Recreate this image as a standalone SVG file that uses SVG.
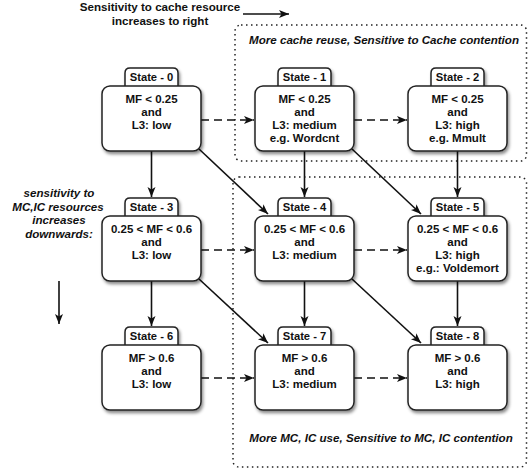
<svg xmlns="http://www.w3.org/2000/svg" width="529" height="469" viewBox="0 0 529 469">
<style>
  .box { fill: #fff; stroke: #222; stroke-width: 1.5; }
  .t { font-family: "Liberation Sans", Arial, sans-serif; font-weight: bold; font-size: 11.5px; fill: #111; text-anchor: middle; }
  .tab { font-family: "Liberation Sans", Arial, sans-serif; font-weight: bold; font-size: 11.2px; fill: #111; text-anchor: middle; }
  .lg { font-family: "Liberation Sans", Arial, sans-serif; font-weight: bold; font-size: 11.6px; fill: #111; text-anchor: middle; }
  .it { font-family: "Liberation Sans", Arial, sans-serif; font-weight: bold; font-style: italic; font-size: 11.6px; fill: #111; text-anchor: middle; }
  .solid { stroke: #111; stroke-width: 1.6; fill: none; marker-end: url(#ah); }
  .dash { stroke: #111; stroke-width: 1.6; fill: none; stroke-dasharray: 8 5; marker-end: url(#ah); }
  .region { fill: none; stroke: #222; stroke-width: 1.5; stroke-dasharray: 1.5 3.5; }
</style>
<defs>
  <marker id="ah" markerUnits="userSpaceOnUse" markerWidth="11" markerHeight="9" refX="10" refY="4" orient="auto" overflow="visible">
    <path d="M0,0 L10,4 L0,8 L2.5,4 z" fill="#111"/>
  </marker>
  <filter id="sh" x="-20%" y="-20%" width="140%" height="150%">
    <feDropShadow dx="1.5" dy="2.5" stdDeviation="1.6" flood-color="#000" flood-opacity="0.45"/>
  </filter>
</defs>
<rect width="529" height="469" fill="#fff"/>

<!-- regions -->
<g id="region-cache">
  <rect class="region" x="235" y="25" width="291.5" height="136" rx="6"/>
  <text class="it" x="384" y="44">More cache reuse, Sensitive to Cache contention</text>
</g>
<g id="region-mc">
  <rect class="region" x="233" y="177" width="293.5" height="290" rx="6"/>
  <text class="it" x="381" y="442">More MC, IC use, Sensitive to MC, IC contention</text>
</g>

<!-- legends -->
<g id="legend-right">
  <text class="lg" x="160" y="11">Sensitivity to cache resource</text>
  <text class="lg" x="160" y="25">increases to right</text>
  <line class="solid" x1="243" y1="14" x2="289" y2="14"/>
</g>
<g id="legend-down">
  <text class="it" x="59" y="197">sensitivity to</text>
  <text class="it" x="58" y="211">MC,IC resources</text>
  <text class="it" x="59" y="224">increases</text>
  <text class="it" x="59" y="238">downwards:</text>
  <line class="solid" x1="59" y1="281" x2="59" y2="324"/>
</g>

<!-- connectors -->
<g id="connectors">
  <!-- vertical -->
  <line class="solid" x1="151.5" y1="151" x2="151.5" y2="197"/>
  <line class="solid" x1="304.5" y1="151" x2="304.5" y2="197"/>
  <line class="solid" x1="457.5" y1="151" x2="457.5" y2="197"/>
  <line class="solid" x1="151.5" y1="281" x2="151.5" y2="326"/>
  <line class="solid" x1="304.5" y1="281" x2="304.5" y2="326"/>
  <line class="solid" x1="457.5" y1="281" x2="457.5" y2="326"/>
  <!-- diagonal -->
  <line class="solid" x1="199" y1="149" x2="268" y2="214"/>
  <line class="solid" x1="352" y1="149" x2="421" y2="214"/>
  <line class="solid" x1="199" y1="279" x2="268" y2="343"/>
  <line class="solid" x1="352" y1="279" x2="421" y2="343"/>
  <!-- dashed horizontal -->
  <line class="dash" x1="201" y1="120" x2="254" y2="120"/>
  <line class="dash" x1="354" y1="120" x2="407" y2="120"/>
  <line class="dash" x1="201" y1="250" x2="254" y2="250"/>
  <line class="dash" x1="354" y1="250" x2="407" y2="250"/>
  <line class="dash" x1="201" y1="378" x2="254" y2="378"/>
  <line class="dash" x1="354" y1="378" x2="407" y2="378"/>
</g>

<!-- nodes -->
<g id="state-0" transform="translate(102,86)">
  <path class="box" filter="url(#sh)" d="M23,1 V-13 Q23,-18 28,-18 H71 Q76,-18 76,-13 V1 Z"/>
  <rect class="box" filter="url(#sh)" x="0" y="0" width="99" height="65" rx="8"/>
  <text class="tab" x="49.5" y="-5">State - 0</text>
  <text class="t" x="49.5" y="17">MF &lt; 0.25</text>
  <text class="t" x="49.5" y="30">and</text>
  <text class="t" x="49.5" y="43">L3: low</text>
</g>
<g id="state-1" transform="translate(255,86)">
  <path class="box" filter="url(#sh)" d="M23,1 V-13 Q23,-18 28,-18 H71 Q76,-18 76,-13 V1 Z"/>
  <rect class="box" filter="url(#sh)" x="0" y="0" width="99" height="65" rx="8"/>
  <text class="tab" x="49.5" y="-5">State - 1</text>
  <text class="t" x="49.5" y="17">MF &lt; 0.25</text>
  <text class="t" x="49.5" y="30">and</text>
  <text class="t" x="49.5" y="43">L3: medium</text>
  <text class="t" x="49.5" y="56">e.g. Wordcnt</text>
</g>
<g id="state-2" transform="translate(408,86)">
  <path class="box" filter="url(#sh)" d="M23,1 V-13 Q23,-18 28,-18 H71 Q76,-18 76,-13 V1 Z"/>
  <rect class="box" filter="url(#sh)" x="0" y="0" width="99" height="65" rx="8"/>
  <text class="tab" x="49.5" y="-5">State - 2</text>
  <text class="t" x="49.5" y="17">MF &lt; 0.25</text>
  <text class="t" x="49.5" y="30">and</text>
  <text class="t" x="49.5" y="43">L3: high</text>
  <text class="t" x="49.5" y="56">e.g. Mmult</text>
</g>
<g id="state-3" transform="translate(102,216)">
  <path class="box" filter="url(#sh)" d="M23,1 V-13 Q23,-18 28,-18 H71 Q76,-18 76,-13 V1 Z"/>
  <rect class="box" filter="url(#sh)" x="0" y="0" width="99" height="65" rx="8"/>
  <text class="tab" x="49.5" y="-5">State - 3</text>
  <text class="t" x="49.5" y="17">0.25 &lt; MF &lt; 0.6</text>
  <text class="t" x="49.5" y="30">and</text>
  <text class="t" x="49.5" y="43">L3: low</text>
</g>
<g id="state-4" transform="translate(255,216)">
  <path class="box" filter="url(#sh)" d="M23,1 V-13 Q23,-18 28,-18 H71 Q76,-18 76,-13 V1 Z"/>
  <rect class="box" filter="url(#sh)" x="0" y="0" width="99" height="65" rx="8"/>
  <text class="tab" x="49.5" y="-5">State - 4</text>
  <text class="t" x="49.5" y="17">0.25 &lt; MF &lt; 0.6</text>
  <text class="t" x="49.5" y="30">and</text>
  <text class="t" x="49.5" y="43">L3: medium</text>
</g>
<g id="state-5" transform="translate(408,216)">
  <path class="box" filter="url(#sh)" d="M23,1 V-13 Q23,-18 28,-18 H71 Q76,-18 76,-13 V1 Z"/>
  <rect class="box" filter="url(#sh)" x="0" y="0" width="99" height="65" rx="8"/>
  <text class="tab" x="49.5" y="-5">State - 5</text>
  <text class="t" x="49.5" y="17">0.25 &lt; MF &lt; 0.6</text>
  <text class="t" x="49.5" y="30">and</text>
  <text class="t" x="49.5" y="43">L3: high</text>
  <text class="t" x="49.5" y="56">e.g.: Voldemort</text>
</g>
<g id="state-6" transform="translate(102,345)">
  <path class="box" filter="url(#sh)" d="M23,1 V-13 Q23,-18 28,-18 H71 Q76,-18 76,-13 V1 Z"/>
  <rect class="box" filter="url(#sh)" x="0" y="0" width="99" height="65" rx="8"/>
  <text class="tab" x="49.5" y="-5">State - 6</text>
  <text class="t" x="49.5" y="17">MF &gt; 0.6</text>
  <text class="t" x="49.5" y="30">and</text>
  <text class="t" x="49.5" y="43">L3: low</text>
</g>
<g id="state-7" transform="translate(255,345)">
  <path class="box" filter="url(#sh)" d="M23,1 V-13 Q23,-18 28,-18 H71 Q76,-18 76,-13 V1 Z"/>
  <rect class="box" filter="url(#sh)" x="0" y="0" width="99" height="65" rx="8"/>
  <text class="tab" x="49.5" y="-5">State - 7</text>
  <text class="t" x="49.5" y="17">MF &gt; 0.6</text>
  <text class="t" x="49.5" y="30">and</text>
  <text class="t" x="49.5" y="43">L3: medium</text>
</g>
<g id="state-8" transform="translate(408,345)">
  <path class="box" filter="url(#sh)" d="M23,1 V-13 Q23,-18 28,-18 H71 Q76,-18 76,-13 V1 Z"/>
  <rect class="box" filter="url(#sh)" x="0" y="0" width="99" height="65" rx="8"/>
  <text class="tab" x="49.5" y="-5">State - 8</text>
  <text class="t" x="49.5" y="17">MF &gt; 0.6</text>
  <text class="t" x="49.5" y="30">and</text>
  <text class="t" x="49.5" y="43">L3: high</text>
</g>
</svg>
